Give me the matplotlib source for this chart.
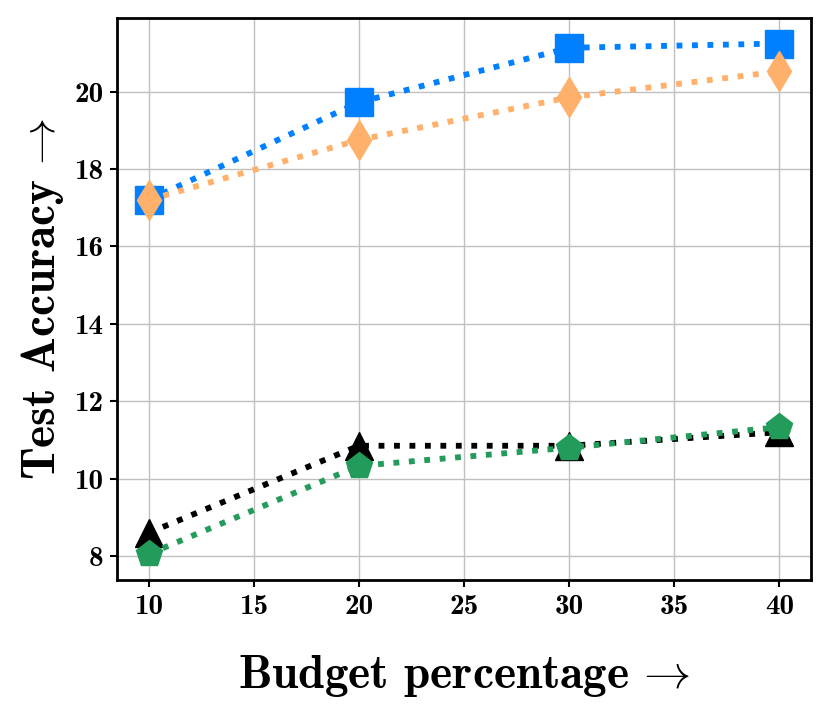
import matplotlib
matplotlib.use("Agg")
import matplotlib.pyplot as plt

# budget percentages and test accuracies
budget = [10, 20, 30, 40]
acc_square = [17.2, 19.72, 21.13, 21.24]
acc_diamond = [17.2, 18.75, 19.85, 20.52]
acc_triangle = [8.6, 10.85, 10.85, 11.2]
acc_pentagon = [8.05, 10.33, 10.8, 11.33]

plt.rcParams['mathtext.fontset'] = 'cm'
plt.rcParams['font.family'] = ['cmb10', 'DejaVu Serif']

fig = plt.figure(figsize=(8.3, 7.21), dpi=100)
ax = fig.add_axes([0.141, 0.196, 0.836, 0.779])

lw = 4.2
ms = 20
ax.plot(budget, acc_square, linestyle=':', linewidth=lw, color='#0080ff',
        marker='s', markersize=ms, zorder=3)
ax.plot(budget, acc_diamond, linestyle=':', linewidth=lw, color='#ffb06a',
        marker='d', markersize=ms, zorder=4)
ax.plot(budget, acc_triangle, linestyle=':', linewidth=lw, color='black',
        marker='^', markersize=ms, zorder=3)
ax.plot(budget, acc_pentagon, linestyle=':', linewidth=lw, color='#239b5a',
        marker='p', markersize=ms, zorder=4)

ax.set_xticks([10, 15, 20, 25, 30, 35, 40])
ax.set_yticks([8, 10, 12, 14, 16, 18, 20])
ax.tick_params(labelsize=21, width=1.5, length=5, pad=5)
ax.grid(True, color='#c0c0c0', linewidth=1)
ax.set_axisbelow(True)
for s in ax.spines.values():
    s.set_linewidth(2)

ax.set_xlabel(r'Budget percentage$\,\rightarrow$', fontsize=34, labelpad=24)
ax.set_ylabel(r'Test Accuracy$\,\rightarrow$', fontsize=34, labelpad=6)

fig.savefig('out.png', dpi=100)
